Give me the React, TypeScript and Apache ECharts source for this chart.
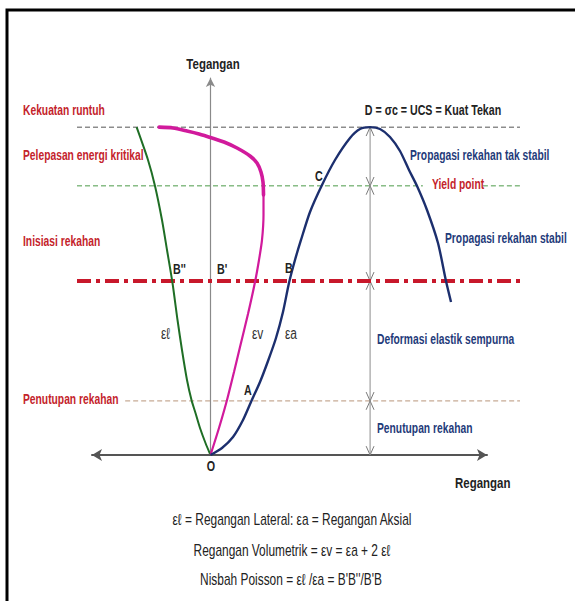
import React, { useEffect, useRef } from "react";
import * as echarts from "echarts";

// ---- data (strain units on x, stress units on y) ----
const axialStrain: number[][] = [
  [0, 0], [2.91, 2.14], [5.7, 5.49], [8.23, 10.68], [10.25, 16.17], [12.53, 22.27],
  [14.56, 28.68], [16.58, 35.69], [18.35, 43.62], [19.87, 52.47], [21.39, 59.49],
  [22.91, 65.59], [25.19, 74.13], [28.23, 82.37], [31.52, 89.99], [35.32, 96.71],
  [37.85, 99.45], [40.4, 100], [42.91, 99.45], [45.44, 97.01], [47.97, 92.74],
  [50.25, 86.94], [52.28, 82.06], [54.81, 74.74], [57.59, 64.67], [59.62, 53.08],
  [60.89, 46.67],
];
const lateralStrain: number[][] = [
  [0, 0], [-1.27, 3.66], [-2.66, 8.24], [-3.8, 12.81], [-4.81, 16.78], [-5.95, 22.88],
  [-7.22, 32.03], [-8.35, 41.18], [-9.62, 52.47], [-11.01, 62.54], [-12.28, 71.69],
  [-14.05, 82.06], [-15.82, 89.99], [-18.7, 100],
];
const volumetricLower: number[][] = [
  [0, 0], [2.15, 8.24], [4.18, 16.78], [5.95, 25.32], [7.47, 32.95], [9.49, 43.01],
  [11.27, 52.78], [12.28, 59.49], [13.04, 65.59], [13.42, 73.22], [13.42, 79.32],
];
const volumetricUpper: number[][] = [
  [13.42, 79.32], [13.29, 83.28], [12.78, 86.33], [11.77, 89.08], [10.0, 91.21],
  [6.71, 93.65], [3.42, 95.48], [0.38, 96.71], [-2.91, 97.93], [-5.95, 98.84],
  [-9.49, 99.76], [-13.0, 100],
];

// stress levels of the horizontal reference lines
const levelCollapse = 100;
const levelYield = 82.1;
const levelInitiation = 53.1;
const levelClosure = 16.5;
const peakStrain = 40.4;
const zoneBounds = [0, levelClosure, levelInitiation, levelYield, levelCollapse];

// extent of the reference lines (strain units)
const lineLeft = -33.8;
const closureLeft = -21.6;
const lineRight = 78.4;
const yieldGapStart = 53.8;
const yieldGapEnd = 69.0;

const FONT = "'Liberation Sans Narrow', 'Arial Narrow', 'Liberation Sans', Arial, sans-serif";
const RED = "#c4232b";
const NAVY = "#1f3b7a";
const DARK = "#222222";

// s = font size, k = horizontal condensation
type Lbl = { t: string; x: number; y: number; c: string; s: number; k: number; b?: boolean; a?: string };
const labels: Lbl[] = [
  { t: "Tegangan", x: 213, y: 64, c: DARK, s: 15.5, k: 0.74, b: true, a: "center" },
  { t: "Kekuatan runtuh", x: 23, y: 110, c: RED, s: 14.5, k: 0.71, b: true },
  { t: "Pelepasan energi kritikal", x: 23, y: 155, c: RED, s: 14.5, k: 0.71, b: true },
  { t: "Inisiasi rekahan", x: 23, y: 241, c: RED, s: 14.5, k: 0.71, b: true },
  { t: "Penutupan rekahan", x: 23, y: 399, c: RED, s: 14.5, k: 0.71, b: true },
  { t: "D = σc = UCS = Kuat Tekan", x: 433, y: 110, c: DARK, s: 15, k: 0.71, b: true, a: "center" },
  { t: "Propagasi rekahan tak stabil", x: 410, y: 155, c: NAVY, s: 14.5, k: 0.71, b: true },
  { t: "Yield point", x: 432, y: 184, c: RED, s: 14.5, k: 0.71, b: true },
  { t: "Propagasi rekahan stabil", x: 445, y: 238, c: NAVY, s: 14.5, k: 0.71, b: true },
  { t: "Deformasi elastik sempurna", x: 377, y: 339, c: NAVY, s: 14.5, k: 0.71, b: true },
  { t: "Penutupan rekahan", x: 377, y: 428, c: NAVY, s: 14.5, k: 0.71, b: true },
  { t: "Regangan", x: 455, y: 483, c: DARK, s: 15.5, k: 0.74, b: true },
  { t: "O", x: 211, y: 466, c: DARK, s: 14.5, k: 0.74, b: true, a: "center" },
  { t: "B''", x: 173, y: 269, c: DARK, s: 14.5, k: 0.74, b: true },
  { t: "B'", x: 217, y: 269, c: DARK, s: 14.5, k: 0.74, b: true },
  { t: "B", x: 285, y: 268, c: DARK, s: 14.5, k: 0.74, b: true },
  { t: "C", x: 315, y: 176, c: DARK, s: 14.5, k: 0.74, b: true },
  { t: "A", x: 244, y: 390, c: DARK, s: 14.5, k: 0.74, b: true },
  { t: "εℓ", x: 161, y: 333, c: "#333", s: 16, k: 0.75 },
  { t: "εv", x: 252, y: 333, c: "#333", s: 16, k: 0.75 },
  { t: "εa", x: 285, y: 333, c: "#333", s: 16, k: 0.75 },
  { t: "εℓ = Regangan Lateral: εa = Regangan Aksial", x: 292, y: 519, c: DARK, s: 16, k: 0.745, a: "center" },
  { t: "Regangan Volumetrik = εv = εa + 2 εℓ", x: 292, y: 550, c: DARK, s: 16, k: 0.745, a: "center" },
  { t: "Nisbah Poisson = εℓ /εa = B'B''/B'B", x: 291, y: 579, c: DARK, s: 16, k: 0.745, a: "center" },
];

const hiddenAxis = {
  type: "value",
  axisLine: { show: false },
  axisTick: { show: false },
  axisLabel: { show: false },
  splitLine: { show: false },
};

function hLine(y: number, x0: number, x1: number, color: string, width: number, dash: number[] | string, z = 1) {
  return {
    type: "line",
    xAxisIndex: 1,
    yAxisIndex: 1,
    data: [[x0, y], [x1, y]],
    symbol: "none",
    silent: true,
    lineStyle: { color, width, type: dash },
    z,
  };
}

export default function App() {
  const ref = useRef<HTMLDivElement>(null);
  useEffect(() => {
    if (!ref.current) return;
    const chart = echarts.init(ref.current, undefined, { renderer: "svg" });

    const dx = 1.0;
    const dy = 2.7;
    const chevrons: any[] = [];
    for (let i = 0; i < zoneBounds.length - 1; i++) {
      const lo = zoneBounds[i];
      const hi = zoneBounds[i + 1];
      chevrons.push({ coords: [[peakStrain - dx, lo + dy], [peakStrain, lo], [peakStrain + dx, lo + dy]] });
      chevrons.push({ coords: [[peakStrain - dx, hi - dy], [peakStrain, hi], [peakStrain + dx, hi - dy]] });
    }

    const option: any = {
      animation: false,
      backgroundColor: "#ffffff",
      grid: [
        { left: 92, right: 88, top: 78, bottom: 146, containLabel: false },
        { left: 77, right: 55, top: 78, bottom: 146, containLabel: false },
      ],
      xAxis: [
        {
          type: "value",
          gridIndex: 0,
          min: -30,
          max: 70,
          axisLine: {
            show: true,
            onZero: true,
            symbol: ["arrow", "arrow"],
            symbolSize: [9, 10],
            lineStyle: { color: "#555", width: 2 },
          },
          axisTick: { show: false },
          axisLabel: { show: false },
          splitLine: { show: false },
        },
        { ...hiddenAxis, gridIndex: 1, min: lineLeft, max: lineRight },
      ],
      yAxis: [
        {
          type: "value",
          gridIndex: 0,
          min: 0,
          max: 115,
          axisLine: {
            show: true,
            onZero: true,
            symbol: ["none", "arrow"],
            symbolSize: [7, 9],
            lineStyle: { color: "#8a8a8a", width: 1.2 },
          },
          axisTick: { show: false },
          axisLabel: { show: false },
          splitLine: { show: false },
        },
        { ...hiddenAxis, gridIndex: 1, min: 0, max: 115 },
      ],
      graphic: [
        {
          type: "rect",
          shape: { x: 7, y: 10, width: 620, height: 640 },
          style: { fill: "none", stroke: "#000", lineWidth: 3 },
          z: 100,
        },
        ...labels.map((l) => ({
          type: "text",
          x: l.x,
          y: l.y,
          scaleX: l.k,
          z: 50,
          style: {
            text: l.t,
            fill: l.c,
            fontSize: l.s,
            fontWeight: l.b ? "bold" : "normal",
            fontFamily: FONT,
            align: l.a ?? "left",
            verticalAlign: "middle",
          },
        })),
      ],
      series: [
        hLine(levelCollapse, lineLeft, lineRight, "#555555", 1, [5, 3]),
        hLine(levelYield, lineLeft, yieldGapStart, "#4c9a48", 1, [5, 3]),
        hLine(levelYield, yieldGapEnd, lineRight, "#4c9a48", 1, [5, 3]),
        hLine(levelClosure, closureLeft, lineRight, "#b9957a", 1, [5, 3]),
        {
          type: "line",
          data: [[peakStrain, 0], [peakStrain, levelCollapse]],
          symbol: "none",
          silent: true,
          lineStyle: { color: "#8c8c8c", width: 1 },
          z: 2,
        },
        {
          type: "lines",
          coordinateSystem: "cartesian2d",
          polyline: true,
          silent: true,
          data: chevrons,
          lineStyle: { color: "#7a7a7a", width: 1, opacity: 1 },
          z: 2,
        },
        {
          type: "line",
          data: lateralStrain,
          symbol: "none",
          smooth: 0.25,
          clip: false,
          lineStyle: { color: "#1f6e25", width: 2 },
          z: 5,
        },
        {
          type: "line",
          data: volumetricLower,
          symbol: "none",
          smooth: 0.25,
          clip: false,
          lineStyle: { color: "#d11a9c", width: 2.2 },
          z: 5,
        },
        {
          type: "line",
          data: volumetricUpper,
          symbol: "none",
          smooth: 0.25,
          clip: false,
          lineStyle: { color: "#d11a9c", width: 3.6, cap: "round" },
          z: 5,
        },
        {
          type: "line",
          data: axialStrain,
          symbol: "none",
          smooth: 0.25,
          clip: false,
          lineStyle: { color: "#1c2f6e", width: 2.4 },
          z: 5,
        },
        hLine(levelInitiation, lineLeft, lineRight, "#c8182b", 4, [14, 5, 4, 5], 3),
      ],
    };
    chart.setOption(option);
    return () => chart.dispose();
  }, []);
  return (
    <div
      ref={ref}
      style={{ position: "fixed", left: 0, top: 0, width: 575, height: 601, background: "#fff" }}
    />
  );
}
